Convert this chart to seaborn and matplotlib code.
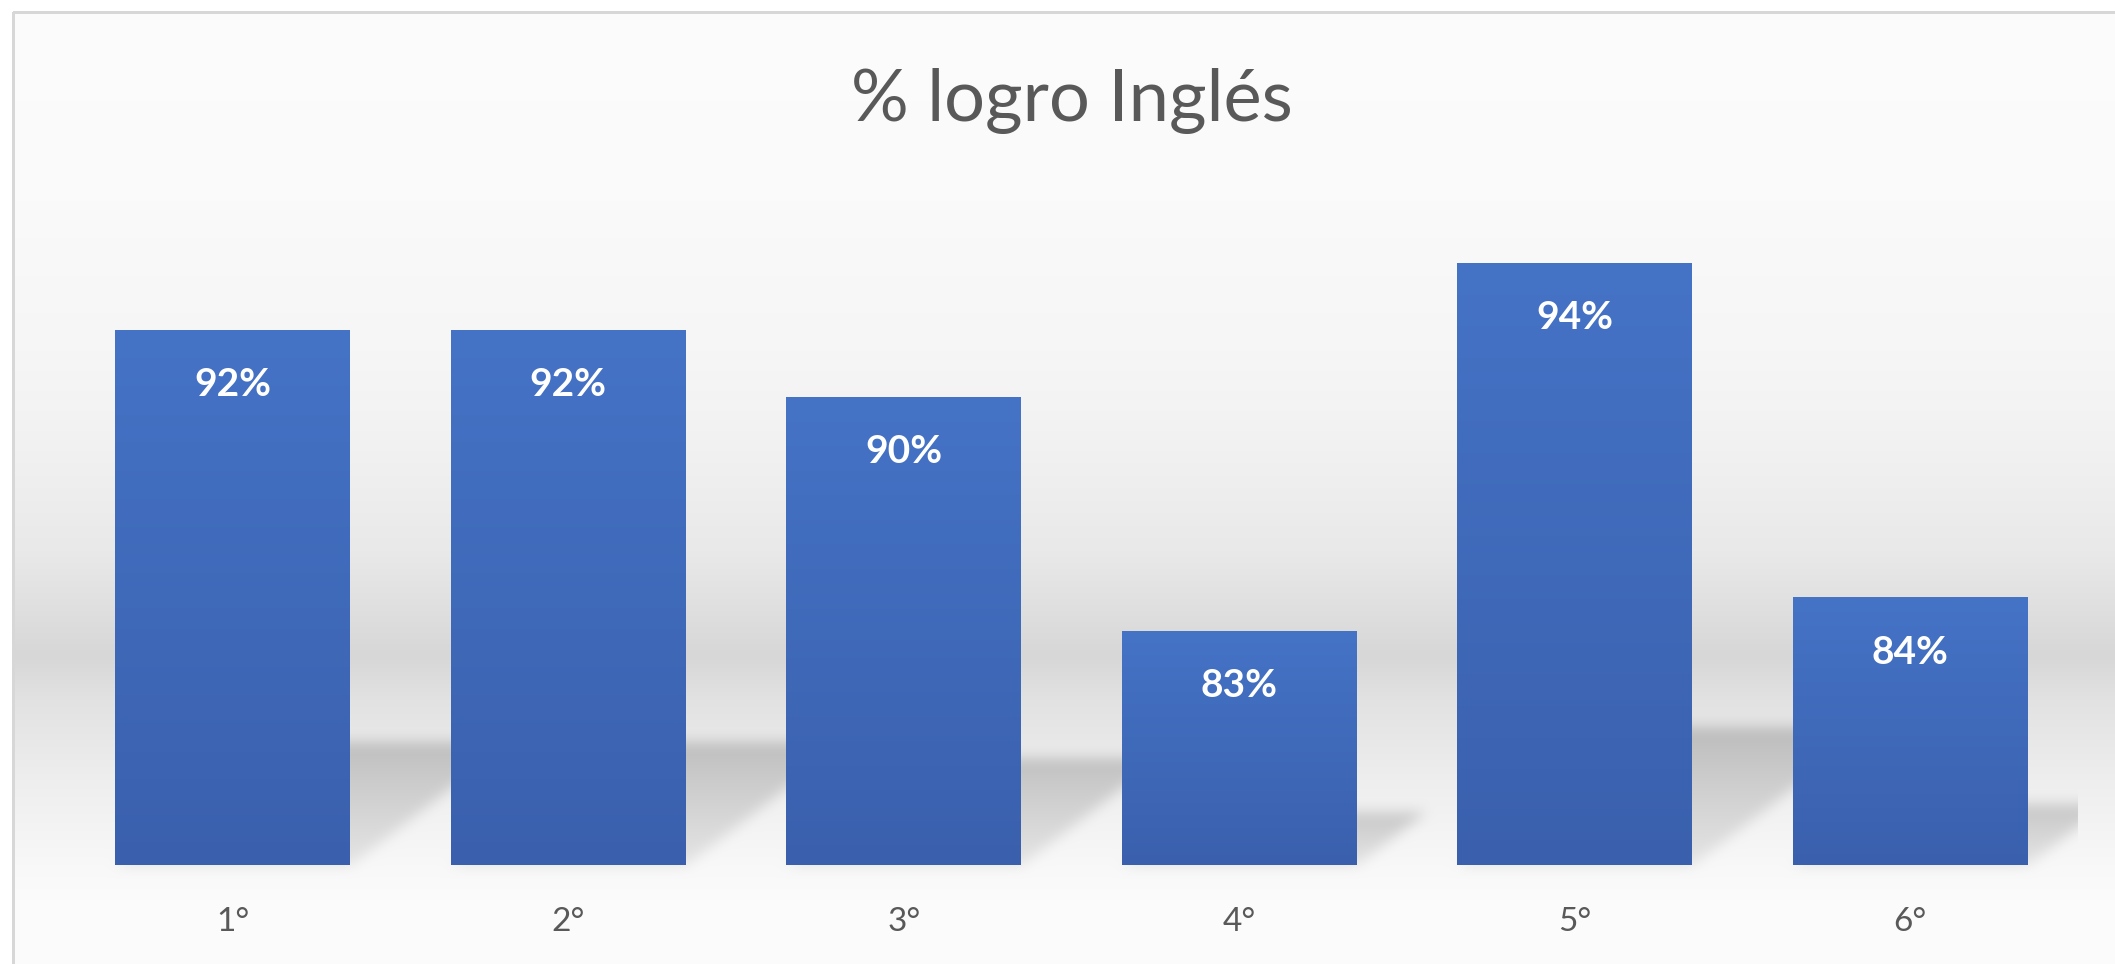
import numpy as np
import pandas as pd
import matplotlib.pyplot as plt
import seaborn as sns
from matplotlib.colors import LinearSegmentedColormap

# data
grados = ["1°", "2°", "3°", "4°", "5°", "6°"]
logro = [0.92, 0.92, 0.90, 0.83, 0.94, 0.84]
titulo = "% logro Inglés"

sns.set_theme(style="white")
plt.rcParams['font.family'] = ['Lato', 'DejaVu Sans']

W, H = 2115, 964
GRIS_TEXTO = "#595959"
Y_MIN, Y_MAX = 0.76, 0.98

fig = plt.figure(figsize=(W / 100, H / 100), dpi=100, facecolor="white")
bg_ax = fig.add_axes([0, 0, 1, 1], zorder=0)
ax = fig.add_axes([65 / W, 1 - 865 / H, (2078 - 65) / W, (865 - 129) / H], zorder=1)
ax.set_facecolor("none")

df = pd.DataFrame({"grado": grados, "logro": logro})
sns.barplot(data=df, x="grado", y="logro", color="#4472C4", width=0.7,
            saturation=1, linewidth=0, ax=ax, zorder=3)

# gradient fill on the bars (only the visible part above the axis floor)
azul = LinearSegmentedColormap.from_list("azul", ["#3A60AD", "#4573C6"])
grad = np.linspace(0, 1, 256).reshape(-1, 1)
for p in ax.patches:
    x = p.get_x()
    im = ax.imshow(grad, extent=[x, x + p.get_width(), Y_MIN, p.get_y() + p.get_height()],
                   origin="lower", aspect="auto", cmap=azul, zorder=3.5)
    im.set_clip_path(p)
ax.set_ylim(Y_MIN, Y_MAX)
ax.set_xlim(-0.5, len(grados) - 0.5)

ax.bar_label(ax.containers[0], labels=[f"{v:.0%}" for v in logro], padding=-52,
             color="white", fontsize=28, fontweight="bold", zorder=5)

sns.despine(ax=ax, left=True, bottom=True)
ax.set_yticks([])
ax.set_xlabel("")
ax.set_ylabel("")
ax.tick_params(axis="x", length=0, pad=30, labelsize=24, labelcolor=GRIS_TEXTO)

pos = ax.get_position()
fig.text((pos.x0 + pos.x1) / 2, 1 - 101 / H, titulo, ha="center", va="center",
         fontsize=52, color=GRIS_TEXTO)

# background: soft vertical gradient plus blurred floor shadows cast by the bars
rows = np.arange(H)
prof_y = [0, 200, 350, 450, 550, 610, 655, 700, 780, 865, 900, 964]
prof_g = [252, 250, 246, 241, 233, 223, 215, 226, 238, 248, 251, 252]
base = np.interp(rows, prof_y, prof_g)[:, None] * np.ones((1, W))

yy, xx = np.mgrid[0:H, 0:W]
mask = np.zeros((H, W))
(area_x0, _), (area_x1, _) = ax.transAxes.transform([(0, 0), (1, 0)])
for p in ax.patches:
    (x0, yb), (x1, yt) = ax.transData.transform([(p.get_x(), Y_MIN),
                                                 (p.get_x() + p.get_width(),
                                                  p.get_y() + p.get_height())])
    s = 0.23 * (yt - yb)          # shadow length follows the bar height
    h = (H - yb) - yy
    inside = (h >= 0) & (h <= s) & (xx >= x0 + h * 1.3) & (xx <= x1 + h * 1.3)
    mask[inside] = np.maximum(mask[inside], (0.45 + 0.55 * h / s)[inside])


def box_blur(a, r):
    for axis in (0, 1):
        pad = [(r + 1, r) if i == axis else (0, 0) for i in range(2)]
        c = np.cumsum(np.pad(a, pad, mode="edge"), axis=axis)
        if axis == 0:
            a = (c[2 * r + 1:] - c[:-2 * r - 1]) / (2 * r + 1)
        else:
            a = (c[:, 2 * r + 1:] - c[:, :-2 * r - 1]) / (2 * r + 1)
    return a


mask = box_blur(box_blur(mask, 7), 7)
mask[:, int(area_x1):] = 0
img = base - 42 * mask
img[:12, :] = 255
img[:, :13] = 255
img[11:14, 13:] = 215
img[12:, 12:15] = 215
img = np.clip(img, 0, 255) / 255.0
bg_ax.imshow(np.dstack([img] * 3), extent=[0, W, 0, H], aspect="auto")
bg_ax.set_xlim(0, W)
bg_ax.set_ylim(0, H)
bg_ax.axis("off")

plt.savefig("out.png", dpi=100, facecolor="white")
plt.close()
